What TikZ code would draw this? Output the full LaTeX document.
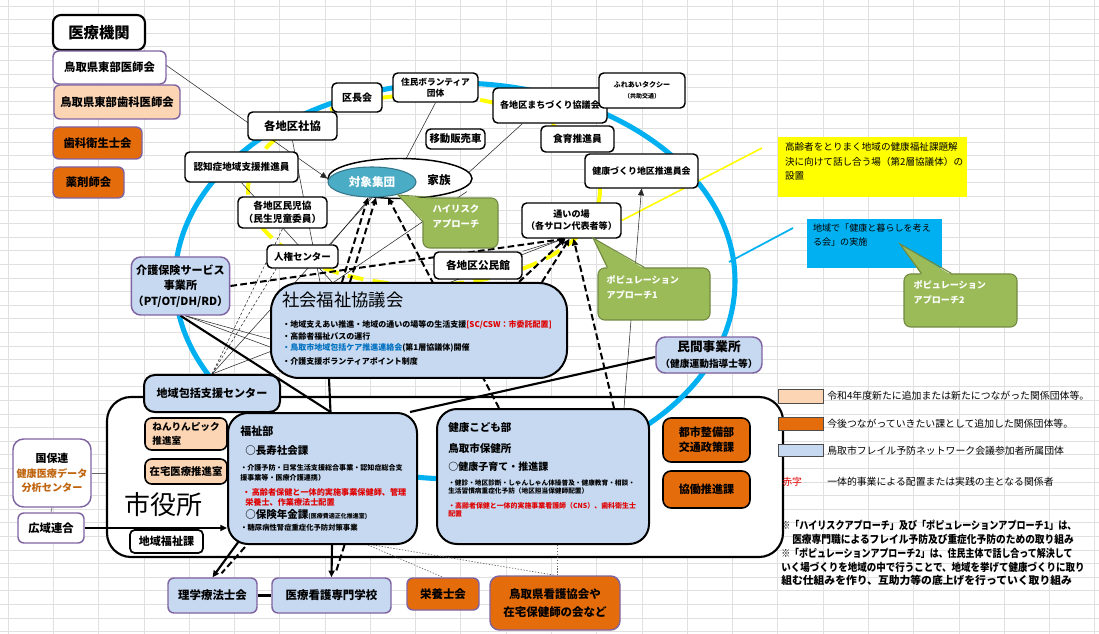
\documentclass[tikz,border=0pt]{standalone}
\usepackage{fontspec}
\usepackage{graphicx}
\setmainfont{Noto Sans CJK JP}
\usetikzlibrary{shapes.geometric,arrows.meta,calc}
\definecolor{peach}{HTML}{FCD5B4}
\definecolor{orng}{HTML}{E46C0A}
\definecolor{lblue}{HTML}{C6D9F1}
\definecolor{purp}{HTML}{8064A2}
\definecolor{grn}{HTML}{9BBB59}
\definecolor{grnd}{HTML}{71893F}
\definecolor{teal1}{HTML}{4BACC6}
\definecolor{cyan1}{HTML}{00B0F0}
\definecolor{yel}{HTML}{FFFF00}
\definecolor{redt}{HTML}{E00000}
\definecolor{bluet}{HTML}{0070C0}
\definecolor{brownt}{HTML}{C0650F}
\definecolor{gridc}{HTML}{E0E0E0}
\newcommand\fz[2]{\fontsize{#1}{#2}\selectfont}
\pgfdeclarelayer{lgrid}\pgfdeclarelayer{lcity}\pgfdeclarelayer{lring}\pgfdeclarelayer{lconn}
\pgfsetlayers{lgrid,lcity,lring,lconn,main}
\tikzset{
  sz/.style 2 args={minimum width=#1*0.75pt, minimum height=#2*0.75pt},
  wb/.style={draw=black, line width=1.1pt, fill=white, rounded corners=3.5pt, inner sep=1pt, align=center, font=\fz{8}{10}\bfseries},
  pb/.style={draw=purp, line width=1.1pt, rounded corners=4.5pt, inner sep=1pt, align=center, font=\fz{8.5}{10.5}\bfseries},
  bb/.style={draw=black, line width=1.5pt, fill=lblue, align=center, inner sep=0pt},
  thinln/.style={draw=black!85, line width=0.4pt},
  thickln/.style={draw=black, line width=1.6pt},
  dashln/.style={draw=black, line width=1.5pt, dash pattern=on 5pt off 2.5pt},
  dotln/.style={draw=black!60, line width=0.5pt, dash pattern=on 1pt off 1.2pt},
  tip/.style={-{Triangle[length=5pt,width=4.5pt]}},
  callout/.style={fill=grn, draw=grnd, line width=0.8pt, rounded corners=5pt},
  tx/.style={inner sep=0pt, anchor=west},
}
\begin{document}
\begin{tikzpicture}[x=0.75pt,y=-0.75pt]
\useasboundingbox (0,0) rectangle (1099,634);
\begin{pgfonlayer}{lgrid}
\fill[white] (0,0) rectangle (1099,634);
\foreach \i in {0,...,24} {\draw[gridc, line width=0.5pt] ({8+45.28*\i},0) -- ({8+45.28*\i},634);}
\foreach \j in {0,...,46} {\draw[gridc, line width=0.5pt] (0,{6+13.6*\j}) -- (1099,{6+13.6*\j});}
\end{pgfonlayer}
\begin{pgfonlayer}{lcity}
\node[draw=black, line width=1.6pt, fill=white, rounded corners=18pt, sz={676}{160}] (city) at (445,477) {};
\end{pgfonlayer}
\begin{pgfonlayer}{lring}
\draw[cyan1, line width=3.8pt] (455,281) ellipse [x radius=280, y radius=198];
\draw[yel, line width=3pt, dash pattern=on 12pt off 7pt] (424,190) ellipse [x radius=176, y radius=95];
\end{pgfonlayer}

% ---- medical
\node[draw=black, line width=1.6pt, fill=white, rounded corners=6pt, sz={92}{35}, font=\fz{11.5}{13}\bfseries] (iryo) at (99,32.5) {医療機関};
\node[pb, fill=white, sz={113}{33}] (ishikai) at (109.5,67.5) {鳥取県東部医師会};
\node[pb, fill=peach, sz={126}{34}] (shika) at (117,102) {鳥取県東部歯科医師会};
\node[pb, fill=orng, sz={89}{32}] (eisei) at (97.5,143) {歯科衛生士会};
\node[pb, fill=orng, sz={71}{31}] (yakuzai) at (88.5,182.5) {薬剤師会};

% ---- ring nodes
\node[wb, sz={89}{28}, font=\fz{8.5}{10}\bfseries] (shakyo) at (292.5,126) {各地区社協};
\node[wb, sz={50}{29}, font=\fz{7.5}{9}\bfseries] (kucho) at (357,97.5) {区長会};
\node[wb, sz={85}{29}, font=\fz{6.5}{8.5}\bfseries] (volun) at (435.5,87.5) {住民ボランティア\\団体};
\node[wb, sz={59}{20}, font=\fz{7.8}{9}\bfseries] (idou) at (455.5,139) {移動販売車};
\node[wb, sz={114}{35}, font=\fz{6.8}{8}\bfseries] (machi) at (550,105.5) {各地区まちづくり協議会};
\node[wb, sz={86}{35}, font=\fz{5.3}{8}\bfseries] (taxi) at (642,90.5) {ふれあいタクシー\\{\fz{4.5}{6}（共助交通）}};
\node[wb, sz={73}{26}, font=\fz{7.3}{9}\bfseries] (shokuiku) at (577.5,139) {食育推進員};
\node[wb, sz={113}{34}, font=\fz{6.7}{8}\bfseries] (kenzuk) at (641.5,171) {健康づくり地区推進員会};
\node[wb, sz={113}{30}, font=\fz{7.2}{8.5}\bfseries] (ninchi) at (241.5,167) {認知症地域支援推進員};
\node[wb, sz={89}{31}, font=\fz{7.3}{9.5}\bfseries] (minji) at (282.5,212.5) {各地区民児協\\（民生児童委員）};
\node[wb, sz={71}{23}, font=\fz{7.1}{8.5}\bfseries] (jinken) at (302.5,256.5) {人権センター};
\node[wb, sz={99}{35}, font=\fz{6.8}{8.8}\bfseries] (kayoi) at (571.5,220.5) {通いの場\\（各サロン代表者等）};
\node[wb, sz={88}{27}, font=\fz{8}{9}\bfseries] (kominkan) at (478,265.5) {各地区公民館};

% ---- target group
\node[ellipse, draw=black, line width=1.1pt, fill=white, sz={144}{40}] (kazoku) at (400,178.5) {};
\node[ellipse, draw=teal1!70!black, line width=0.8pt, fill=teal1, inner sep=1pt, sz={88}{30}, font=\fz{8.7}{10}\bfseries, text=white] (taisho) at (372,182) {対象集団};
\node[inner sep=0pt, font=\fz{8.7}{10}\bfseries] (kazokutxt) at (439,180) {家族};

% ---- callouts
\node[callout, sz={75}{50}] (hr) at (460.5,223) {};
\coordinate (hrtip) at (398,195);
\fill[grn] (hrtip) -- ($(hr.north west)+(10,1.5)$) -- ($(hr.north west)+(1.5,24)$) -- cycle;
\draw[grnd, line width=0.8pt] ($(hr.north west)+(10,0)$) -- (hrtip) -- ($(hr.north west)+(0,24)$);
\node[tx, anchor=north west, align=left, text=white, font=\fz{7}{11}\bfseries] (hrt) at ($(hr.north west)+(10,7)$) {ハイリスク\\アプローチ};

\node[callout, sz={112}{52}] (p1) at (654,294) {};
\coordinate (p1tip) at (593,238);
\fill[grn] (p1tip) -- ($(p1.north west)+(10,1.5)$) -- ($(p1.north west)+(47,1.5)$) -- cycle;
\draw[grnd, line width=0.8pt] ($(p1.north west)+(10,0)$) -- (p1tip) -- ($(p1.north west)+(47,0)$);
\node[tx, anchor=north west, align=left, text=white, font=\fz{6.8}{11}\bfseries] (p1t) at ($(p1.north west)+(9,8)$) {ポピュレーション\\アプローチ1};

% ---- right boxes
\node[fill=yel, sz={189}{60}] (ybox) at (872.5,167) {};
\node[tx, anchor=north west, align=left, font=\fz{7.2}{11.2}] (ytx) at ($(ybox.north west)+(7,5)$) {高齢者をとりまく地域の健康福祉課題解\\決に向けて話し合う場（第2層協議体）の\\設置};
\node[fill=cyan1, sz={135}{49}] (cbox) at (874.5,243.5) {};
\node[tx, anchor=north west, align=left, font=\fz{6.8}{10.5}] (ctx) at ($(cbox.north west)+(6,5)$) {地域で「健康と暮らしを考え\\る会」の実施};
\node[callout, sz={113}{53}] (p2) at (960.5,300.5) {};
\coordinate (p2tip) at (900,244);
\fill[grn] (p2tip) -- ($(p2.north west)+(18,1.5)$) -- ($(p2.north west)+(48,1.5)$) -- cycle;
\draw[grnd, line width=0.8pt] ($(p2.north west)+(18,0)$) -- (p2tip) -- ($(p2.north west)+(48,0)$);
\node[tx, anchor=north west, align=left, text=white, font=\fz{6.8}{11}\bfseries] (p2t) at ($(p2.north west)+(10,7)$) {ポピュレーション\\アプローチ2};

% ---- middle
\node[draw=purp, line width=1.1pt, rounded corners=7pt, fill=lblue, sz={95}{58}, align=center, inner sep=1pt, font=\fz{8.3}{11.6}\bfseries] (kaigo) at (180.5,286) {介護保険サービス\\事業所\\（PT/OT/DH/RD）};
\node[bb, rounded corners=21pt, sz={296}{95}] (shafuku) at (419,330.5) {};
\node[tx, font=\fz{13}{15}] (sft) at (282,300) {社会福祉協議会};
\node[tx, font=\fz{6}{7}\bfseries] (sf1) at (282,325) {・地域支えあい推進・地域の通いの場等の生活支援\textcolor{redt}{[SC/CSW：市委託配置]}};
\node[tx, font=\fz{6}{7}\bfseries] (sf2) at (282,336) {・高齢者福祉バスの運行};
\node[tx, font=\fz{6}{7}\bfseries] (sf3) at (282,348) {\textcolor{bluet}{・鳥取市地域包括ケア推進連絡会}(第1層協議体)開催};
\node[tx, font=\fz{6}{7}\bfseries] (sf4) at (282,361) {・介護支援ボランティアポイント制度};
\node[draw=purp, line width=1.1pt, rounded corners=7pt, fill=lblue, sz={106}{36}, align=center, inner sep=1pt] (minkan) at (709,355) {{\fz{9.5}{11}\bfseries 民間事業所}\\{\fz{7.3}{9}\bfseries （健康運動指導士等）}};

% ---- city hall
\node[draw=black, line width=1.5pt, fill=lblue, rounded corners=8pt, sz={136}{37}, font=\fz{8.3}{10}\bfseries] (houkatsu) at (212,393.5) {地域包括支援センター};
\node[draw=black, line width=1.2pt, fill=peach, rounded corners=5pt, sz={82}{32}, align=left, inner sep=1pt, font=\fz{7.2}{10}\bfseries] (nenrin) at (186,434) {ねんりんピック\\推進室};
\node[draw=black, line width=1.2pt, fill=peach, rounded corners=5pt, sz={82}{25}, inner sep=1pt, font=\fz{7.8}{10}\bfseries] (zaitaku) at (186,471.5) {在宅医療推進室};
\node[inner sep=0pt, font=\fz{19.5}{22}] (citylbl) at (163,505) {市役所};
\node[wb, line width=1.3pt, sz={73}{23}, font=\fz{8.3}{10}\bfseries] (chiikifuku) at (166.5,541.5) {地域福祉課};

\node[bb, rounded corners=15pt, sz={189}{131}] (fukushi) at (322.5,478.5) {};
\node[tx, font=\fz{8.3}{10}\bfseries] (fk1) at (240,431) {福祉部};
\node[tx, font=\fz{7.9}{10}\bfseries] (fk2) at (245,450) {○長寿社会課};
\node[tx, font=\fz{5.3}{6}\bfseries] (fk3) at (240,468) {・介護予防・日常生活支援総合事業・認知症総合支};
\node[tx, font=\fz{5.3}{6}\bfseries] (fk4) at (240,478) {援事業等・医療介護連携）};
\node[tx, font=\fz{6.1}{7}\bfseries, text=redt] (fk5) at (242,492) {・\,高齢者保健と一体的実施事業保健師、管理};
\node[tx, font=\fz{6.1}{7}\bfseries, text=redt] (fk6) at (245,502) {栄養士、作業療法士配置};
\node[tx, font=\fz{7.9}{10}\bfseries] (fk7) at (245,515) {○保険年金課{\fz{4.5}{5}(医療費適正化推進室)}};
\node[tx, font=\fz{5.5}{6}\bfseries] (fk8) at (240,528) {・糖尿病性腎症重症化予防対策事業};

\node[bb, rounded corners=15pt, sz={212}{135}] (kodomo) at (543,476.5) {};
\node[tx, font=\fz{7.9}{10}\bfseries] (kd1) at (448,428) {健康こども部};
\node[tx, font=\fz{7.9}{10}\bfseries] (kd2) at (448,448) {鳥取市保健所};
\node[tx, font=\fz{7.5}{10}\bfseries] (kd3) at (448,467) {○健康子育て・推進課};
\node[tx, font=\fz{5}{6}\bfseries] (kd4) at (448,483) {・健診・地区診断・しゃんしゃん体操普及・健康教育・相談・};
\node[tx, font=\fz{5}{6}\bfseries] (kd5) at (448,491) {生活習慣病重症化予防（地区担当保健師配置）};
\node[tx, font=\fz{5.2}{6}\bfseries, text=redt] (kd6) at (448,506) {・高齢者保健と一体的実施事業看護師（CNS）、歯科衛生士};
\node[tx, font=\fz{5.2}{6}\bfseries, text=redt] (kd7) at (448,514) {配置};

\node[draw=black, line width=1.2pt, fill=orng, rounded corners=6pt, sz={87}{44}, align=center, inner sep=1pt, font=\fz{8.3}{11}\bfseries] (toshi) at (706.5,440) {都市整備部\\交通政策課};
\node[draw=black, line width=1.2pt, fill=orng, rounded corners=6pt, sz={87}{37}, inner sep=1pt, font=\fz{8.3}{11}\bfseries] (kyodo) at (706.5,489.5) {協働推進課};

\node[draw=purp, line width=1.1pt, rounded corners=8pt, fill=white, sz={78}{68}, align=center, inner sep=1pt, font=\fz{8.2}{10.9}\bfseries] (kokuho) at (52,473) {国保連\\{\fz{7.6}{10.9}\bfseries\color{brownt}健康医療データ}\\{\fz{7.6}{10.9}\bfseries\color{brownt}分析センター}};
\node[pb, fill=white, sz={66}{30}] (kouiki) at (51,528) {広域連合};

% ---- bottom
\node[pb, fill=lblue, sz={89}{35}, font=\fz{8.6}{10}\bfseries] (rigaku) at (212.5,595.5) {理学療法士会};
\node[pb, fill=lblue, sz={119}{35}, font=\fz{8.6}{10}\bfseries] (senmon) at (331.5,595.5) {医療看護専門学校};
\node[pb, fill=orng, sz={72}{32}, font=\fz{8.6}{10}\bfseries] (eiyo) at (443,594) {栄養士会};
\node[pb, fill=orng, rounded corners=7pt, sz={130}{54}, font=\fz{8.6}{13}\bfseries] (kango) at (555,603) {鳥取県看護協会や\\在宅保健師の会など};

% ---- legend
\node[draw=black!70, line width=0.6pt, fill=peach, sz={45}{14}, inner sep=0pt] (lg1) at (800.5,396) {};
\node[tx, font=\fz{7.4}{9}] (lg1t) at (827,396) {令和4年度新たに追加または新たにつながった関係団体等。};
\node[draw=black!70, line width=0.6pt, fill=orng, sz={45}{13}, inner sep=0pt] (lg2) at (800.5,423.5) {};
\node[tx, font=\fz{7.4}{9}] (lg2t) at (827,423.5) {今後つながっていきたい課として追加した関係団体等。};
\node[draw=black!70, line width=0.6pt, fill=lblue, sz={45}{12}, inner sep=0pt] (lg3) at (800.5,450.5) {};
\node[tx, font=\fz{7.4}{9}] (lg3t) at (827,450.5) {鳥取市フレイル予防ネットワーク会議参加者所属団体};
\node[tx, font=\fz{7.4}{9}, text=redt] (lg4) at (782,482) {赤字};
\node[tx, font=\fz{7.4}{9}] (lg4t) at (827,482) {一体的事業による配置または実践の主となる関係者};

% ---- notes
\node[tx, font=\fz{8.1}{9}\bfseries] (n1) at (781,525) {\scalebox{0.84}[1]{※「ハイリスクアプローチ」及び「ポピュレーションアプローチ1」は、}};
\node[tx, font=\fz{8.1}{9}\bfseries] (n2) at (792,539) {\scalebox{0.9}[1]{医療専門職によるフレイル予防及び重症化予防のための取り組み}};
\node[tx, font=\fz{8.1}{9}\bfseries] (n3) at (781,553) {\scalebox{0.83}[1]{※「ポピュレーションアプローチ2」は、住民主体で話し合って解決して}};
\node[tx, font=\fz{8.1}{9}\bfseries] (n4) at (781,567) {\scalebox{0.88}[1]{いく場づくりを地域の中で行うことで、地域を挙げて健康づくりに取り}};
\node[tx, font=\fz{8.1}{9}\bfseries] (n5) at (781,580) {組む仕組みを作り、互助力等の底上げを行っていく取り組み};

% ---- connectors
\coordinate (ylend) at (762,148);
\coordinate (clstart) at (729,262);
\coordinate (clend) at (793,228);
\begin{pgfonlayer}{lconn}
\draw[yel, line width=1.2pt] (kayoi.east) -- (ylend);
\draw[cyan1, line width=1.3pt] (clstart) -- (clend);
\draw[thinln, tip] (iryo.south east) -- (kazoku.west);
\draw[thinln] (shakyo.south) -- ($(shafuku.north west)+(50,0)$);
\draw[thinln] (ninchi.south) -- ($(shafuku.north west)+(62,0)$);
\draw[thinln] (volun.south) -- ($(kazoku.north)+(6,1)$);
\draw[thinln] ($(machi.south west)+(30,0)$) -- ($(kazoku.east)+(-4,-6)$);
\draw[thinln, tip] ($(kodomo.north east)+(-26,0)$) -- (kenzuk.south);
\draw[thinln] ($(jinken.north east)+(-8,0)$) -- ($(taisho.south)+(-2,0)$);
\draw[thinln] (houkatsu.north) -- (taisho.south);
\draw[thinln] (houkatsu.north) -- ($(kayoi.south)+(-8,0)$);
\draw[thinln, dash pattern=on 2pt off 1.5pt] (houkatsu.north) -- (minji.south);
\draw[thinln, dash pattern=on 2pt off 1.5pt] (houkatsu.north) -- ($(jinken.south west)+(10,0)$);
\draw[thinln] ($(kaigo.south east)+(-45,0)$) -- ($(shafuku.north west)+(0,57)$);
\draw[thinln] ($(kaigo.south east)+(-45,0)$) -- ($(shafuku.north west)+(0,65)$);
\draw[thinln] (kominkan.north east) -- ($(kayoi.south)+(-8,0)$);
\draw[thinln] ($(shafuku.north west)+(64,0)$) -- ($(kazoku.center)+(67,13)$);
\draw[dashln, tip] (kaigo.east) -- ($(kayoi.south)+(-6,0)$);
\draw[dashln, tip] ($(shafuku.north west)+(72,0)$) -- ($(taisho.south)+(-4,0)$);
\draw[dashln, tip] ($(shafuku.north west)+(80,0)$) -- ($(taisho.south)+(4,0)$);
\draw[dashln, tip] ($(shafuku.north west)+(249,0)$) -- ($(kayoi.south)+(-6,0)$);
\draw[dashln, tip] ($(shafuku.north west)+(272,0)$) -- ($(kayoi.south)+(-2,0)$);
\draw[dashln, tip] ($(kodomo.north west)+(63,0)$) -- ($(taisho.south)+(16,0)$);
\draw[dashln, tip] ($(kodomo.north west)+(178,0)$) -- ($(kayoi.south)+(2,0)$);
\draw[thickln] (kaigo.south) -- ($(fukushi.north)+(8,0)$);
\draw[thickln] ($(shafuku.south west)+(59,0)$) -- ($(fukushi.north)+(8,0)$);
\draw[thickln] ($(minkan.west)+(0,2)$) -- ($(fukushi.north east)+(-8,0)$);
\draw[thickln, tip] (kouiki.east) -- (kouiki.east -| fukushi.west);
\draw[thickln, tip] ($(fukushi.south west)+(12,-4)$) -- (rigaku.north);
\draw[dashln] ($(fukushi.south west)+(18,2)$) -- ($(rigaku.north)+(9,-4)$);
\draw[thickln, tip] ($(fukushi.south)+(9.5,0)$) -- (senmon.north);
\draw[dashln] ($(fukushi.south)+(22,0)$) -- ($(senmon.north)+(4,-4)$);
\draw[thickln] (rigaku.east) -- (senmon.west);
\draw[draw=black!60, line width=0.5pt] (kokuho.east) -- (kokuho.east -| city.west);
\draw[draw=black!60, line width=0.5pt] (kokuho.south) -- (kouiki.north);
\draw[dotln] ($(fukushi.south east)+(-50,0)$) -- (eiyo.north);
\draw[dotln] ($(fukushi.south east)+(-45,0)$) -- (kango.north);
\draw[dotln] ($(kodomo.south)+(14,0)$) -- ($(kango.north)+(2,0)$);
\end{pgfonlayer}
\end{tikzpicture}
\end{document}
